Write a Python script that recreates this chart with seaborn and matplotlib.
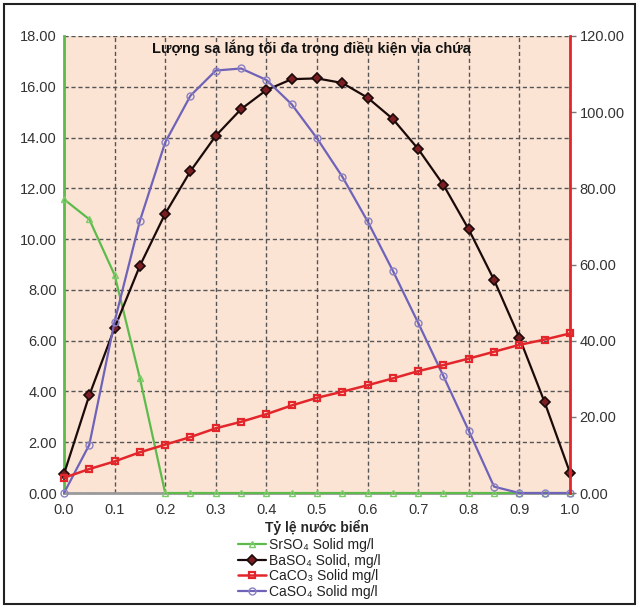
import matplotlib
matplotlib.use("Agg")
import matplotlib.pyplot as plt
import matplotlib.ticker as mticker
from matplotlib.patches import Rectangle
import seaborn as sns
import numpy as np

# ── Data ───────────────────────────────────────────────
x_ratio = [0.0, 0.05, 0.1, 0.15, 0.2, 0.25, 0.3, 0.35, 0.4, 0.45, 0.5,
           0.55, 0.6, 0.65, 0.7, 0.75, 0.8, 0.85, 0.9, 0.95, 1.0]

srso4 = [11.57, 10.78, 8.59, 4.52, 0, 0, 0, 0, 0, 0, 0,
         0, 0, 0, 0, 0, 0, 0, 0, 0, 0]
baso4 = [0.75, 3.85, 6.5, 8.95, 11.0, 12.68, 14.07, 15.12, 15.87, 16.3, 16.33,
         16.15, 15.57, 14.73, 13.55, 12.13, 10.38, 8.39, 6.12, 3.57, 0.8]
caso4 = [0.0, 1.9, 6.75, 10.72, 13.81, 15.65, 16.64, 16.72, 16.27, 15.31, 13.97,
         12.46, 10.7, 8.75, 6.7, 4.6, 2.45, 0.25, 0.0, 0.0, 0.0]
# CaCO3 drawn on the secondary (right, 0-120) axis
caco3 = [4.0, 6.3, 8.3, 10.7, 12.7, 14.7, 17.0, 18.7, 20.7, 23.0, 25.0,
         26.6, 28.3, 30.1, 32.0, 33.6, 35.3, 37.1, 38.9, 40.3, 41.9]

TITLE = "Lượng sa lắng tối đa trong điều kiện vỉa chứa"
XLABEL = "Tỷ lệ nước biển"
LABELS = ["SrSO₄ Solid mg/l", "BaSO₄ Solid, mg/l",
          "CaCO₃ Solid mg/l", "CaSO₄ Solid mg/l"]

# ── Style ──────────────────────────────────────────────
sns.set_theme(style="white")
plt.rcParams.update({
    "font.family": ["Liberation Sans", "DejaVu Sans"],
    "text.color": "#222222",
})
GREEN = "#5DBB4C"
RED = "#E3262B"
DARK = "#1A0A0A"
PURPLE = "#6E63B8"
PEACH = "#FCE4D4"

fig = plt.figure(figsize=(6.38, 6.08), dpi=100, facecolor="white")
ax = fig.add_axes([0.1003, 0.1891, 0.7931, 0.7517])
ax.set_facecolor(PEACH)
ax2 = ax.twinx()

sns.lineplot(x=x_ratio, y=srso4, ax=ax, color=GREEN, linewidth=1.6,
             marker="^", markersize=6, markerfacecolor="none",
             markeredgecolor="#7CCB6A", markeredgewidth=1, label=LABELS[0],
             clip_on=False, zorder=3)
sns.lineplot(x=x_ratio, y=baso4, ax=ax, color=DARK, linewidth=1.6,
             marker="D", markersize=6.5, markerfacecolor="#7A1E22",
             markeredgecolor=DARK, markeredgewidth=1.2, label=LABELS[1],
             clip_on=False, zorder=4)
sns.lineplot(x=x_ratio, y=caso4, ax=ax, color=PURPLE, linewidth=1.6,
             marker="o", markersize=8, markerfacecolor="none",
             markeredgecolor="#8A80C4", markeredgewidth=1, label=LABELS[3],
             clip_on=False, zorder=5)
sns.lineplot(x=x_ratio, y=caco3, ax=ax2, color=RED, linewidth=1.8,
             marker="s", markersize=8, markerfacecolor="none",
             markeredgecolor=RED, markeredgewidth=1.6, label=LABELS[2],
             clip_on=False)

# ── Axes ───────────────────────────────────────────────
ax.set_xlim(0, 1.0)
ax.set_ylim(0, 18)
ax2.set_ylim(0, 120)
ax.xaxis.set_major_locator(mticker.MultipleLocator(0.1))
ax.yaxis.set_major_locator(mticker.MultipleLocator(2))
ax2.yaxis.set_major_locator(mticker.MultipleLocator(20))
ax.xaxis.set_major_formatter(mticker.FormatStrFormatter("%.1f"))
ax.yaxis.set_major_formatter(mticker.FormatStrFormatter("%.2f"))
ax2.yaxis.set_major_formatter(mticker.FormatStrFormatter("%.2f"))

ax.grid(True, which="major", color="#555555", linestyle=(0, (3, 2)), linewidth=1)
ax.set_axisbelow(True)

for s in ["top", "right"]:
    ax.spines[s].set_visible(False)
ax.spines["left"].set_color(GREEN)
ax.spines["left"].set_linewidth(2)
ax.spines["bottom"].set_color("#9A9A9A")
ax.spines["bottom"].set_linewidth(2)
for s in ["top", "left", "bottom"]:
    ax2.spines[s].set_visible(False)
ax2.spines["right"].set_color(RED)
ax2.spines["right"].set_linewidth(2)

ax.tick_params(axis="both", length=0, labelsize=10.5, colors="#333333", pad=5)
ax.tick_params(axis="x", pad=7)
ax2.tick_params(axis="y", length=4, width=1, color="#777777",
                labelsize=10.5, labelcolor="#333333", pad=3, direction="out")

ax.set_xlabel(XLABEL, fontsize=10, fontweight="bold", labelpad=2)
ax.set_ylabel("")
ax2.set_ylabel("")
ax.text(0.49, 0.992, TITLE, transform=ax.transAxes, ha="center", va="top",
        fontsize=10.5, fontweight="bold", color="#111111")

# ── Legend ─────────────────────────────────────────────
h1, l1 = ax.get_legend_handles_labels()
h2, l2 = ax2.get_legend_handles_labels()
ax.get_legend().remove()
ax2.get_legend().remove()
handles = [h1[0], h1[1], h2[0], h1[2]]
labels = [l1[0], l1[1], l2[0], l1[2]]
for h in handles:
    h.set_markersize(5)
fig.legend(handles, labels, loc="upper center", bbox_to_anchor=(0.485, 0.126),
           frameon=False, fontsize=10, handlelength=2.0, handletextpad=0.2,
           labelspacing=0.1, borderpad=0)

# outer frame
fig.patches.append(Rectangle((0.006, 0.006), 0.99, 0.988, transform=fig.transFigure,
                             fill=False, edgecolor="#222222", linewidth=1.5))

plt.savefig("out.png", dpi=100)
plt.close(fig)
